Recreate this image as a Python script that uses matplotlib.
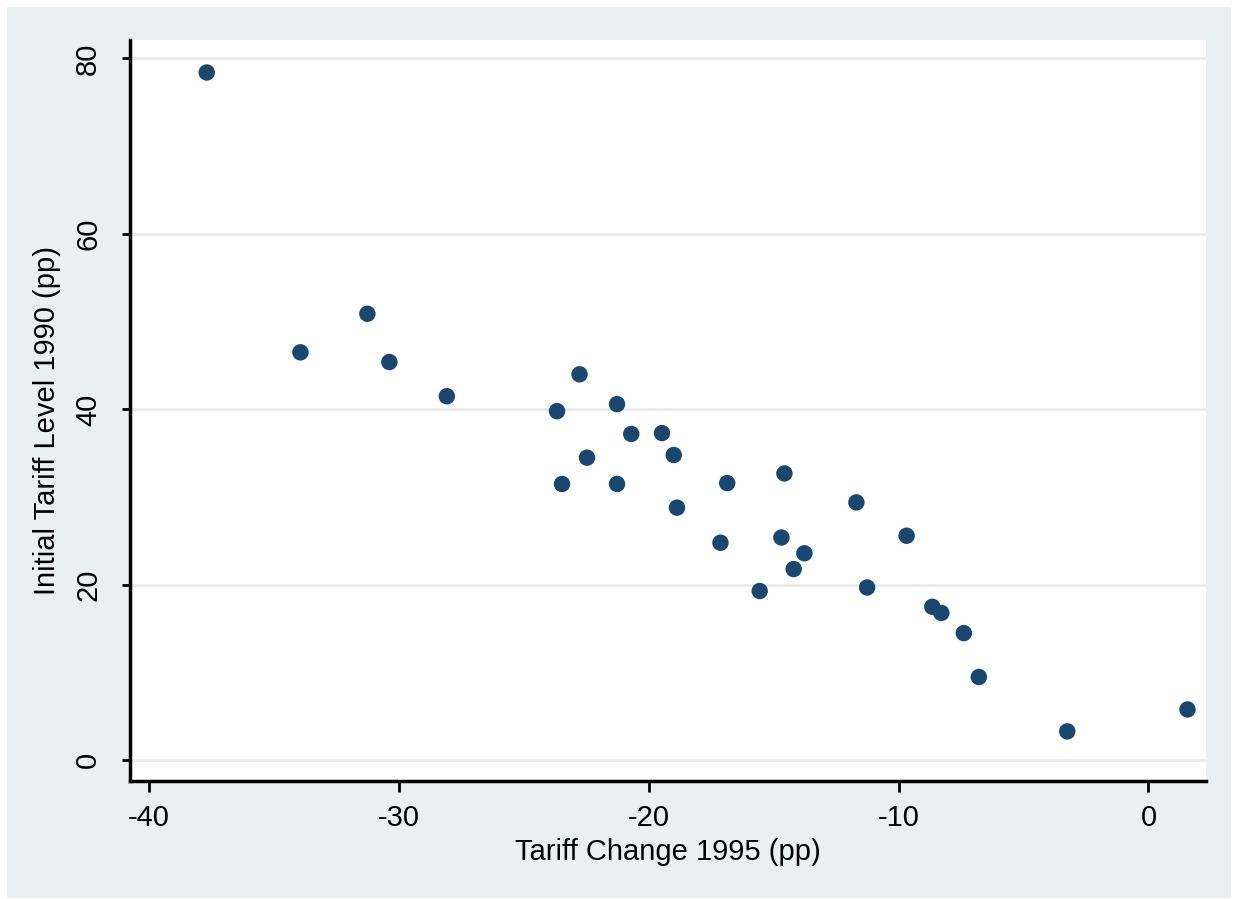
import matplotlib
matplotlib.use("Agg")
import matplotlib.pyplot as plt
from matplotlib.patches import Rectangle

# --- DATA ---
tariff_change = [-37.69, -33.94, -31.26, -30.38, -28.08, -23.67, -23.47, -22.77,
                 -22.47, -21.27, -21.27, -20.70, -19.47, -19.00, -18.87, -17.13,
                 -16.86, -15.56, -14.69, -14.57, -14.20, -13.77, -11.69, -11.26,
                 -9.68, -8.65, -8.29, -7.39, -6.79, -3.25, 1.56]
initial_tariff = [78.4, 46.5, 50.9, 45.4, 41.5, 39.8, 31.5, 44.0,
                  34.5, 40.6, 31.5, 37.2, 37.3, 34.8, 28.8, 24.8,
                  31.6, 19.3, 25.4, 32.7, 21.8, 23.6, 29.4, 19.7,
                  25.6, 17.5, 16.8, 14.5, 9.5, 3.3, 5.8]

x_ticks = [-40, -30, -20, -10, 0]
y_ticks = [0, 20, 40, 60, 80]

# --- STYLE ---
plt.rcParams['font.family'] = ['Liberation Sans', 'DejaVu Sans']
plt.rcParams['axes.unicode_minus'] = False
BG = '#eaf0f2'
NAVY = '#1a476f'

fig = plt.figure(figsize=(12.37, 8.99), dpi=100)
fig.patch.set_facecolor('white')
# grey outer region (Stata-style graph region)
bg = Rectangle((7 / 1237, 1 / 899), 1224 / 1237, 891 / 899,
               transform=fig.transFigure, facecolor=BG, edgecolor='none')
bg.set_zorder(-10)
fig.add_artist(bg)

ax = fig.add_axes([0.1051, 0.1316, 0.8696, 0.8239])
ax.set_zorder(5)
ax.set_facecolor('white')

ax.scatter(tariff_change, initial_tariff, s=140, color=NAVY, marker='o',
           edgecolors='none', zorder=3)

ax.set_xlim(-40.76, 2.29)
ax.set_ylim(-2.32, 82.1)
ax.set_xticks(x_ticks)
ax.set_yticks(y_ticks)
ax.set_yticklabels([str(v) for v in y_ticks], rotation=90, va='center')

ax.grid(axis='y', color='#eaeaea', linewidth=2.0)
ax.set_axisbelow(True)

for side in ['top', 'right']:
    ax.spines[side].set_visible(False)
for side in ['left', 'bottom']:
    ax.spines[side].set_linewidth(2.5)
    ax.spines[side].set_color('black')

ax.tick_params(axis='x', length=8, width=2, direction='out', pad=9,
               labelsize=21)
ax.tick_params(axis='y', length=6, width=2, direction='out', pad=14,
               labelsize=21)

ax.set_xlabel("Tariff Change 1995 (pp)", fontsize=21)
ax.set_ylabel("Initial Tariff Level 1990 (pp)", fontsize=21)
ax.xaxis.set_label_coords(0.5, -0.096)
ax.yaxis.set_label_coords(-0.077, 0.486)
ax.xaxis.label.set_va('center')
ax.yaxis.label.set_va('center')

fig.savefig("out.png", dpi=100, facecolor=fig.get_facecolor())
